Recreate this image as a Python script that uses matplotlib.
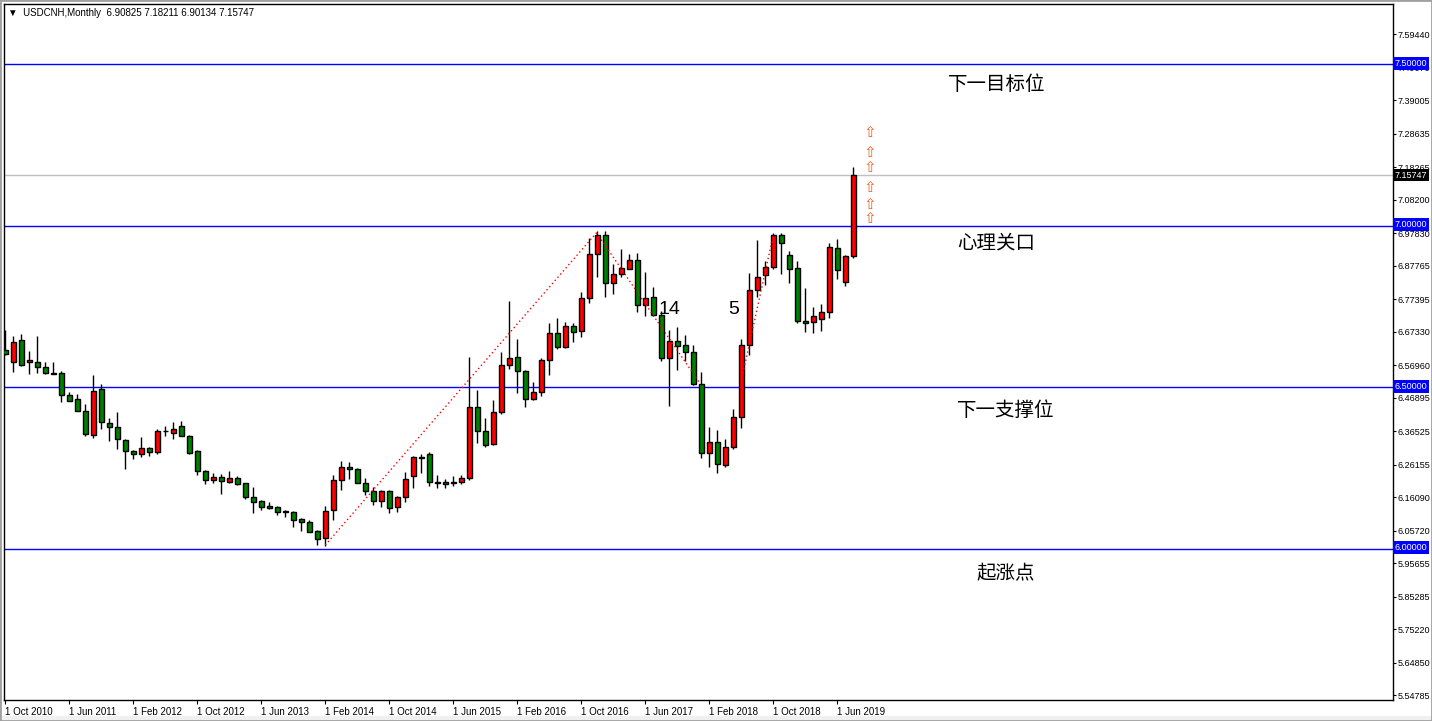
import matplotlib
matplotlib.use('Agg')
import matplotlib.pyplot as plt
import matplotlib.transforms as mtransforms
from matplotlib.patches import Rectangle

# monthly USDCNH candles, Oct 2010 .. Aug 2019
opens = [6.6161, 6.5780, 6.6471, 6.5780, 6.5780, 6.5625, 6.5440, 6.5440, 6.4758, 6.4635,
         6.4263, 6.3520, 6.4954, 6.3892, 6.3768, 6.3365, 6.3025, 6.2932, 6.3117, 6.2994,
         6.3662, 6.3582, 6.3799, 6.3489, 6.3025, 6.2406, 6.2127, 6.2220, 6.2084, 6.2189,
         6.2034, 6.1601, 6.1476, 6.1331, 6.1291, 6.1167, 6.1136, 6.0919, 6.0826, 6.0548,
         6.0331, 6.1198, 6.2127, 6.2529, 6.2467, 6.2034, 6.1786, 6.1476, 6.1786, 6.1291,
         6.1601, 6.2251, 6.2839, 6.2932, 6.2065, 6.2065, 6.2065, 6.2065, 6.2189, 6.4387,
         6.3644, 6.3241, 6.4232, 6.5687, 6.5935, 6.5502, 6.4635, 6.4851, 6.5842, 6.6678,
         6.6245, 6.6895, 6.6740, 6.7762, 6.9124, 6.9712, 6.8226, 6.8505, 6.8660, 6.8938,
         6.7545, 6.7793, 6.7235, 6.5904, 6.6430, 6.6307, 6.6090, 6.5099, 6.2963, 6.3303,
         6.2591, 6.3148, 6.4077, 6.6307, 6.8009, 6.8474, 6.8721, 6.9712, 6.9093, 6.8691,
         6.7050, 6.7019, 6.7111, 6.7328, 6.9310, 6.8257, 6.90825]
highs = [6.6780, 6.6594, 6.6656, 6.6130, 6.6594, 6.5789, 6.5789, 6.5502, 6.4851, 6.4799,
         6.4489, 6.5387, 6.5108, 6.4046, 6.4241, 6.3396, 6.3056, 6.3458, 6.3148, 6.3706,
         6.3799, 6.3922, 6.3954, 6.3520, 6.3056, 6.2436, 6.2344, 6.2313, 6.2415, 6.2251,
         6.2043, 6.1919, 6.1507, 6.1445, 6.1322, 6.1198, 6.1167, 6.0950, 6.0888, 6.0579,
         6.1322, 6.2282, 6.2715, 6.2684, 6.2498, 6.2189, 6.1910, 6.1817, 6.1817, 6.1632,
         6.2375, 6.2870, 6.2941, 6.2994, 6.2282, 6.2158, 6.2260, 6.2282, 6.5954, 6.4913,
         6.4046, 6.4604, 6.6090, 6.7678, 6.6492, 6.5533, 6.5161, 6.5904, 6.6988, 6.7142,
         6.7019, 6.6988, 6.7947, 6.9619, 6.9836, 6.9836, 6.8814, 6.9279, 6.9124, 6.9155,
         6.8567, 6.8102, 6.7359, 6.6770, 6.6863, 6.6616, 6.6307, 6.5471, 6.3768, 6.3675,
         6.3396, 6.4325, 6.6492, 6.8536, 6.9557, 6.8907, 6.9774, 6.9774, 6.9217, 6.8907,
         6.8071, 6.7483, 6.7575, 6.9464, 6.9588, 6.9093, 7.18211]
lows = [6.6006, 6.5489, 6.5681, 6.5427, 6.5458, 6.5433, 6.5409, 6.4560, 6.4582, 6.4257,
        6.3508, 6.3446, 6.3706, 6.3353, 6.3105, 6.2486, 6.2795, 6.2858, 6.2870, 6.2932,
        6.3489, 6.3396, 6.3483, 6.2950, 6.2282, 6.2003, 6.2028, 6.1712, 6.2053, 6.1991,
        6.1557, 6.1124, 6.1217, 6.1248, 6.1043, 6.1000, 6.0690, 6.0566, 6.0526, 6.0133,
        6.0102, 6.0907, 6.1836, 6.2177, 6.2028, 6.1681, 6.1353, 6.1291, 6.1105, 6.1136,
        6.1446, 6.1879, 6.2344, 6.1941, 6.1879, 6.1898, 6.1960, 6.2012, 6.2127, 6.3291,
        6.3148, 6.3210, 6.4170, 6.5582, 6.4839, 6.4387, 6.4604, 6.4727, 6.5378, 6.6183,
        6.6214, 6.6399, 6.6564, 6.7607, 6.8412, 6.7792, 6.7885, 6.8412, 6.8654, 6.7328,
        6.7204, 6.7229, 6.5811, 6.4418, 6.5533, 6.5811, 6.5068, 6.2808, 6.2529, 6.2344,
        6.2529, 6.3086, 6.3737, 6.5997, 6.7792, 6.8164, 6.8660, 6.8505, 6.8226, 6.6988,
        6.6709, 6.6678, 6.6740, 6.7142, 6.8350, 6.8133, 6.90134]
closes = [6.6037, 6.6399, 6.5687, 6.5851, 6.5644, 6.5440, 6.5418, 6.4777, 6.4591, 6.4263,
          6.3551, 6.4882, 6.3922, 6.3768, 6.3415, 6.3025, 6.2932, 6.3117, 6.2994, 6.3644,
          6.3660, 6.3706, 6.3489, 6.2981, 6.2406, 6.2127, 6.2220, 6.2096, 6.2189, 6.2022,
          6.1619, 6.1464, 6.1310, 6.1279, 6.1136, 6.1136, 6.0888, 6.0826, 6.0535, 6.0319,
          6.1167, 6.2127, 6.2529, 6.2467, 6.2034, 6.1786, 6.1476, 6.1786, 6.1260, 6.1601,
          6.2158, 6.2839, 6.2808, 6.2065, 6.2053, 6.2003, 6.2034, 6.2189, 6.4387, 6.3644,
          6.3210, 6.4232, 6.5687, 6.5904, 6.5502, 6.4635, 6.4851, 6.5842, 6.6678, 6.6245,
          6.6895, 6.6709, 6.7762, 6.9124, 6.9712, 6.8226, 6.8505, 6.8691, 6.8938, 6.7545,
          6.7762, 6.7235, 6.5904, 6.6430, 6.6276, 6.6090, 6.5099, 6.2963, 6.3303, 6.2622,
          6.3148, 6.4077, 6.6307, 6.8009, 6.8412, 6.8721, 6.9712, 6.9464, 6.8660, 6.7050,
          6.6988, 6.7204, 6.7328, 6.9341, 6.8629, 6.9062, 7.15747]

date_labels = ['1 Oct 2010', '1 Jun 2011', '1 Feb 2012', '1 Oct 2012', '1 Jun 2013',
               '1 Feb 2014', '1 Oct 2014', '1 Jun 2015', '1 Feb 2016', '1 Oct 2016',
               '1 Jun 2017', '1 Feb 2018', '1 Oct 2018', '1 Jun 2019']
price_ticks = [7.59440, 7.49070, 7.39005, 7.28635, 7.18265, 7.08200, 6.97830, 6.87765,
               6.77395, 6.67330, 6.56960, 6.46895, 6.36525, 6.26155, 6.16090, 6.05720,
               5.95655, 5.85285, 5.75220, 5.64850, 5.54785]
levels = [7.5, 7.0, 6.5, 6.0]
level_notes = ['下一目标位', '心理关口', '下一支撑位', '起涨点']
last_price = 7.15747
# dotted trend lines (bar index, price)
trend_up1 = ([40, 73.9], [6.012, 6.979])
trend_down = ([73.9, 86.8], [6.979, 6.514])
trend_up2 = ([92.1, 96.0], [6.532, 6.972])
arrow_prices = [7.2893, 7.2287, 7.1822, 7.1191, 7.0677, 7.0223]

plt.rcParams['font.family'] = ['Liberation Sans', 'DejaVu Sans']

fig = plt.figure(figsize=(14.32, 7.21), dpi=100)
ax = fig.add_axes([4 / 1432, 21 / 721, 1389 / 1432, 696 / 721])
ax.set_xlim(-0.16, 173.46)
ax.set_ylim(5.5325, 7.6873)

n = len(opens)
xs = list(range(n))
ax.vlines(xs, lows, highs, color='black', linewidth=1, zorder=2)
for i in xs:
    o, c = opens[i], closes[i]
    col = '#FF0000' if c > o else '#008000'
    ax.bar(i, max(abs(c - o), 0.0004), bottom=min(o, c), width=0.62, color=col,
           edgecolor='black', linewidth=1, zorder=3)

# horizontal levels
for lv in levels:
    ax.axhline(lv, color='#0000FF', linewidth=1, zorder=1)
ax.axhline(last_price, color='#C0C0C0', linewidth=1, zorder=1)

for xx, yy in (trend_up1, trend_down, trend_up2):
    ax.plot(xx, yy, color='red', linestyle=(0, (1, 2)), linewidth=1, zorder=4)

# annotations
note_x = [123.9, 123.9, 125.0, 125.0]
note_y = [7.4396, 6.9474, 6.4303, 5.9226]
for tx, ty, s in zip(note_x, note_y, level_notes):
    ax.text(tx, ty, s, ha='center', va='center', fontsize=14,
            family=['Noto Sans CJK SC', 'DejaVu Sans'], color='black')
ax.text(83.0, 6.7415, '14', ha='center', va='center', fontsize=14, color='black', zorder=6)
ax.text(91.0, 6.7415, '5', ha='center', va='center', fontsize=14, color='black', zorder=6)
for ap in arrow_prices:
    ax.text(108.0, ap, '⇧', ha='center', va='center', fontsize=11,
            family='DejaVu Sans', color='#F06020')

# axes styling
for sp in ax.spines.values():
    sp.set_color('black')
    sp.set_linewidth(1)
ax.yaxis.tick_right()
ax.set_yticks(price_ticks)
ax.set_yticklabels(['%.5f' % v for v in price_ticks])
ax.tick_params(axis='y', direction='out', length=2, pad=1, labelsize=6.5)
ticks_x = list(range(0, n, 8))
ax.set_xticks(ticks_x)
ax.set_xticklabels(date_labels, ha='left')
ax.tick_params(axis='x', direction='out', length=3, pad=2, labelsize=7)

tr = mtransforms.blended_transform_factory(ax.transAxes, ax.transData)
for lv in levels:
    ax.text(1.0012, lv + 0.004, '%.5f' % lv, transform=tr, ha='left', va='center',
            fontsize=6.5, color='white', zorder=10, clip_on=False,
            bbox=dict(boxstyle='square,pad=0.2', fc='#0000FF', ec='none'))
ax.text(1.0012, last_price, '%.5f' % last_price, transform=tr, ha='left', va='center',
        fontsize=6.5, color='white', zorder=10, clip_on=False,
        bbox=dict(boxstyle='square,pad=0.2', fc='black', ec='none'))

ax.text(0.003, 0.987, '▼  USDCNH,Monthly  6.90825 7.18211 6.90134 7.15747',
        transform=ax.transAxes, ha='left', va='center', fontsize=7, color='black')

# window frame
fig.patches.append(Rectangle((0, 0), 1, 5 / 721, transform=fig.transFigure,
                             fc='#F0F0F0', ec='none'))
fig.patches.append(Rectangle((0, 0), 1, 1, transform=fig.transFigure, fill=False,
                             ec='#A0A0A0', lw=2))

fig.savefig('out.png', dpi=100)
